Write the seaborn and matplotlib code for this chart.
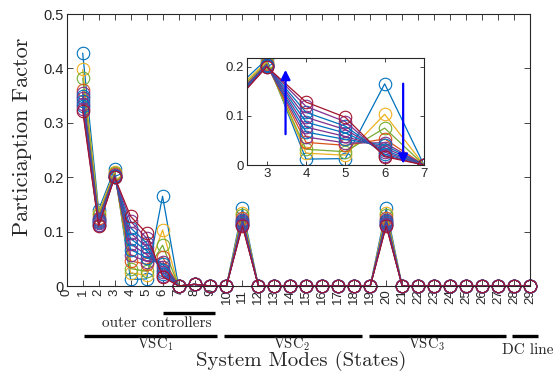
import numpy as np
import pandas as pd
import matplotlib
matplotlib.use("Agg")
import matplotlib.pyplot as plt
import matplotlib.transforms as mtransforms
import seaborn as sns

sns.set_style("ticks")
plt.rcParams['font.family'] = ['Liberation Sans', 'DejaVu Sans']
plt.rcParams['mathtext.fontset'] = 'cm'

# ---- data -----------------------------------------------------------
states = list(range(1, 30))
series_names = [f"s{i}" for i in range(12)]
colors = ["#0072BD", "#EDB120", "#77AC30", "#D95319", "#7E2F8E", "#0072BD",
          "#7E2F8E", "#0072BD", "#7E2F8E", "#0072BD", "#7E2F8E", "#A2142F"]

pf_x1 = [0.428, 0.398, 0.382, 0.360, 0.355, 0.350, 0.345, 0.340, 0.335, 0.330, 0.326, 0.322]
pf_x2 = [0.140, 0.135, 0.130, 0.125, 0.123, 0.121, 0.119, 0.117, 0.115, 0.113, 0.112, 0.110]
pf_x3 = [0.215, 0.210, 0.207, 0.205, 0.204, 0.203, 0.202, 0.202, 0.201, 0.201, 0.200, 0.200]
pf_x4 = [0.012, 0.024, 0.032, 0.046, 0.057, 0.067, 0.077, 0.087, 0.097, 0.107, 0.119, 0.128]
pf_x5 = [0.013, 0.020, 0.027, 0.040, 0.045, 0.052, 0.058, 0.065, 0.072, 0.079, 0.088, 0.097]
pf_x6 = [0.165, 0.103, 0.075, 0.053, 0.045, 0.040, 0.035, 0.030, 0.026, 0.022, 0.019, 0.017]
pf_x8 = [0.003] * 12
pf_x11 = [0.143, 0.135, 0.130, 0.125, 0.122, 0.120, 0.118, 0.116, 0.114, 0.113, 0.112, 0.110]
pf_x20 = [0.143, 0.135, 0.130, 0.125, 0.122, 0.120, 0.118, 0.116, 0.114, 0.113, 0.112, 0.110]

xticks_main = list(range(0, 30))
yticks_main = [0, 0.1, 0.2, 0.3, 0.4, 0.5]

groups = [("VSC$_1$", 1.1, 9.4), ("VSC$_2$", 9.85, 18.5), ("VSC$_3$", 18.9, 27.5), ("DC line", 27.9, 29.5)]

# ---- build table ----------------------------------------------------
special = {1: pf_x1, 2: pf_x2, 3: pf_x3, 4: pf_x4, 5: pf_x5, 6: pf_x6,
           8: pf_x8, 11: pf_x11, 20: pf_x20}
rows = []
for i, name in enumerate(series_names):
    for s in states:
        v = special[s][i] if s in special else 0.0
        rows.append({"series": name, "state": s, "pf": v})
df = pd.DataFrame(rows)

W, H = 554, 372
fig = plt.figure(figsize=(W / 100, H / 100), dpi=100)
ax = fig.add_axes([66.7 / W, 1 - 286 / H, (530 - 66.7) / W, (286 - 14) / H])

def draw(a, clip):
    sns.lineplot(data=df, x="state", y="pf", hue="series", hue_order=series_names,
                 palette=colors, marker="o", markersize=9, linewidth=0.9,
                 errorbar=None, legend=False, ax=a)
    for ln in a.lines:
        ln.set_markeredgecolor(ln.get_color())
        ln.set_markerfacecolor("none")
        ln.set_markeredgewidth(0.8)
        ln.set_clip_on(clip)

draw(ax, False)
ax.set_xlim(0, 29)
ax.set_ylim(0, 0.5)
ax.set_xticks(xticks_main)
ax.set_xticklabels([str(t) for t in xticks_main], rotation=90, fontsize=9.5)
ax.set_yticks(yticks_main)
ax.set_yticklabels([f"{t:g}" for t in yticks_main], fontsize=10.5)
ax.tick_params(direction="in", top=True, right=True, length=4, width=0.6,
               colors="#262626", pad=2)
for sp in ax.spines.values():
    sp.set_linewidth(0.8)
    sp.set_color("#262626")
    sp.set_visible(True)
ax.set_xlabel("")
ax.set_ylabel("")

# ---- inset ----------------------------------------------------------
axi = fig.add_axes([247 / W, 1 - 165 / H, (424 - 247) / W, (165 - 58) / H])
draw(axi, True)
axi.set_xlim(2.5, 7.0)
axi.set_ylim(0, 0.2175)
axi.set_xticks([3, 4, 5, 6, 7])
axi.set_yticks([0, 0.1, 0.2])
axi.set_yticklabels(["0", "0.1", "0.2"])
axi.tick_params(direction="in", top=True, right=True, length=3, width=0.6,
                labelsize=9.5, colors="#262626", pad=2)
for sp in axi.spines.values():
    sp.set_linewidth(0.8)
    sp.set_color("#262626")
    sp.set_visible(True)
axi.set_xlabel("")
axi.set_ylabel("")
axi.annotate("", xy=(3.48, 0.199), xytext=(3.48, 0.057),
             arrowprops=dict(arrowstyle="-|>", color="blue", lw=1.6, mutation_scale=14))
axi.annotate("", xy=(6.47, -0.003), xytext=(6.47, 0.171),
             arrowprops=dict(arrowstyle="-|>", color="blue", lw=1.6, mutation_scale=14),
             annotation_clip=False)

# ---- annotations below axis ----------------------------------------
tr = mtransforms.blended_transform_factory(ax.transData, fig.transFigure)
serif = "cmr10"
ax.plot([6.0, 9.3], [1 - 313 / H] * 2, color="black", lw=2.4, transform=tr,
        clip_on=False, solid_capstyle="butt")
fig.text(157 / W, 1 - 323 / H, "outer controllers", family=serif, fontsize=11,
         ha="center", va="center")
for label, x0, x1 in groups:
    ax.plot([x0, x1], [1 - 335.5 / H] * 2, color="black", lw=2.4, transform=tr,
            clip_on=False, solid_capstyle="butt")
fig.text(155.5 / W, 1 - 344 / H, "VSC$_1$", family=serif, fontsize=10.5, ha="center", va="center")
fig.text(291.5 / W, 1 - 344 / H, "VSC$_2$", family=serif, fontsize=10.5, ha="center", va="center")
fig.text(426 / W, 1 - 344 / H, "VSC$_3$", family=serif, fontsize=10.5, ha="center", va="center")
fig.text(502 / W, 1 - 350 / H, "DC line", family=serif, fontsize=11, ha="left", va="center")
fig.text(301 / W, 1 - 371 / H, "System Modes (States)", family=serif, fontsize=15,
         ha="center", va="bottom")
fig.text(22 / W, 1 - 137 / H, "Particiaption Factor", family=serif, fontsize=16,
         ha="center", va="center", rotation=90)

fig.savefig("out.png", dpi=100)
